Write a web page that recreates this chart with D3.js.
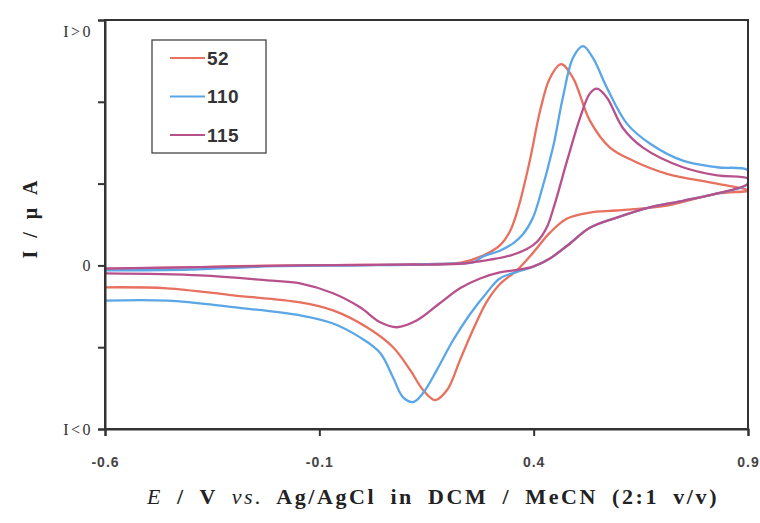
<!DOCTYPE html>
<html>
<head>
<meta charset="utf-8">
<script src="https://cdn.jsdelivr.net/npm/d3@7"></script>
<style>
  html, body { margin: 0; padding: 0; background: #fff; }
  svg { display: block; }
</style>
</head>
<body>
<svg id="chart" width="760" height="523"></svg>
<script>
// Cyclic voltammograms of compounds 52, 110 and 115: [E (V), I (relative)]
// Each trace: anodic sweep from -0.6 V to 0.9 V, then the return sweep.
const seriesNames = ["52", "110", "115"];
const seriesColors = ["#e8705e", "#5aa6e6", "#b8508c"];

const cv52 = [
  [-0.6, -0.04], [-0.45, -0.03], [-0.3, -0.01], [-0.15, 0.0], [0.0, 0.005], [0.15, 0.015],
  [0.23, 0.035], [0.282, 0.12], [0.321, 0.244], [0.345, 0.42], [0.365, 0.72], [0.391, 1.28],
  [0.415, 1.89], [0.438, 2.29], [0.464, 2.46], [0.492, 2.29], [0.531, 1.77], [0.578, 1.44],
  [0.632, 1.28], [0.711, 1.12], [0.828, 1.0], [0.9, 0.915],
  [0.828, 0.878], [0.711, 0.732], [0.594, 0.671], [0.531, 0.646], [0.478, 0.573], [0.438, 0.40],
  [0.398, 0.15], [0.361, -0.06], [0.321, -0.23], [0.291, -0.44], [0.258, -0.793],
  [0.228, -1.159], [0.198, -1.524], [0.170, -1.646], [0.142, -1.524], [0.112, -1.28],
  [0.072, -1.0], [0.011, -0.756], [-0.068, -0.549], [-0.145, -0.451], [-0.301, -0.366],
  [-0.455, -0.28], [-0.6, -0.268]
];

const cv110 = [
  [-0.6, -0.06], [-0.4, -0.05], [-0.2, -0.01], [0.0, 0.0], [0.2, 0.02], [0.26, 0.04],
  [0.282, 0.11], [0.321, 0.18], [0.352, 0.27], [0.375, 0.38], [0.398, 0.58], [0.415, 0.85],
  [0.445, 1.44], [0.468, 2.05], [0.492, 2.54], [0.515, 2.68], [0.538, 2.54], [0.571, 2.17],
  [0.618, 1.73], [0.671, 1.49], [0.748, 1.28], [0.828, 1.2], [0.9, 1.16],
  [0.9, 1.0], [0.828, 0.88], [0.748, 0.79], [0.671, 0.71], [0.594, 0.585], [0.531, 0.46],
  [0.478, 0.24], [0.438, 0.085], [0.398, -0.02], [0.361, -0.08], [0.321, -0.16],
  [0.291, -0.33], [0.251, -0.60], [0.212, -0.915], [0.174, -1.28], [0.142, -1.56],
  [0.119, -1.67], [0.095, -1.61], [0.072, -1.37], [0.042, -1.07], [-0.005, -0.88],
  [-0.068, -0.71], [-0.145, -0.61], [-0.301, -0.51], [-0.455, -0.43], [-0.6, -0.43]
];

const cv115 = [
  [-0.6, -0.04], [-0.378, -0.02], [-0.145, 0.0], [0.088, 0.01], [0.228, 0.02], [0.298, 0.07],
  [0.345, 0.12], [0.384, 0.20], [0.408, 0.29], [0.431, 0.47], [0.448, 0.73], [0.478, 1.28],
  [0.508, 1.80], [0.531, 2.10], [0.548, 2.16], [0.571, 2.05], [0.608, 1.68], [0.655, 1.44],
  [0.748, 1.20], [0.828, 1.10], [0.9, 1.06],
  [0.9, 1.0], [0.828, 0.88], [0.748, 0.79], [0.671, 0.71], [0.594, 0.585], [0.531, 0.46],
  [0.478, 0.24], [0.438, 0.085], [0.398, -0.015], [0.361, -0.055], [0.321, -0.085],
  [0.275, -0.16], [0.228, -0.28], [0.181, -0.463], [0.128, -0.671], [0.081, -0.756],
  [0.042, -0.695], [-0.005, -0.512], [-0.068, -0.341], [-0.145, -0.22], [-0.222, -0.183],
  [-0.378, -0.122], [-0.6, -0.098]
];

const seriesData = [cv52, cv110, cv115];

// Axis ticks and labels
const xTicks = [-0.6, -0.1, 0.4, 0.9];
const xTickLabels = ["-0.6", "-0.1", "0.4", "0.9"];
const yTicks = [-2, -1, 0, 1, 2, 3];
const yTickLabels = { "-2": "I<0", "0": "0", "3": "I>0" };

const svg = d3.select("#chart");
const m = { left: 105, right: 748, top: 20, bottom: 429 };

const x = d3.scaleLinear().domain([-0.6, 0.9]).range([m.left, m.right]);
const y = d3.scaleLinear().domain([-2, 3]).range([m.bottom, m.top]);

svg.append("defs").append("clipPath").attr("id", "plotClip")
  .append("rect")
  .attr("x", m.left).attr("y", m.top)
  .attr("width", m.right - m.left).attr("height", m.bottom - m.top);

// Traces
const line = d3.line()
  .x(d => x(d[0]))
  .y(d => y(d[1]))
  .curve(d3.curveCatmullRom.alpha(0.5));

const traces = svg.append("g").attr("clip-path", "url(#plotClip)");
seriesData.forEach((data, i) => {
  traces.append("path")
    .datum(data)
    .attr("fill", "none")
    .attr("stroke", seriesColors[i])
    .attr("stroke-width", 2.3)
    .attr("stroke-linejoin", "round")
    .attr("d", line);
});

// Frame
svg.append("rect")
  .attr("x", m.left).attr("y", m.top)
  .attr("width", m.right - m.left).attr("height", m.bottom - m.top)
  .attr("fill", "none").attr("stroke", "#333").attr("stroke-width", 2);

// X axis
const xAxis = svg.append("g")
  .attr("transform", `translate(0,${m.bottom})`)
  .call(d3.axisBottom(x).tickValues(xTicks).tickSize(7)
    .tickFormat((d, i) => xTickLabels[i]));
xAxis.select(".domain").attr("stroke", "#333").attr("stroke-width", 2);
xAxis.selectAll(".tick line").attr("stroke", "#333").attr("stroke-width", 2);
xAxis.selectAll(".tick text")
  .attr("y", 28)
  .attr("font-family", "Liberation Sans, Arial, sans-serif")
  .attr("font-weight", "bold")
  .attr("font-size", 14)
  .attr("letter-spacing", 1)
  .attr("fill", "#444");

// Y axis
const yAxis = svg.append("g")
  .attr("transform", `translate(${m.left},0)`)
  .call(d3.axisLeft(y).tickValues(yTicks).tickSize(7)
    .tickFormat(d => yTickLabels[String(d)] || ""));
yAxis.select(".domain").attr("stroke", "#333").attr("stroke-width", 2);
yAxis.selectAll(".tick line").attr("stroke", "#333").attr("stroke-width", 2);
yAxis.selectAll(".tick text")
  .attr("x", -12)
  .attr("font-family", "Liberation Serif, Times New Roman, serif")
  .attr("font-size", 16)
  .attr("letter-spacing", 2.5)
  .attr("fill", "#333")
  .attr("dy", d => d === 3 ? "1.05em" : "0.32em");

// Axis titles
svg.append("text")
  .attr("transform", "translate(37,218) rotate(-90)")
  .attr("text-anchor", "middle")
  .attr("font-family", "Liberation Serif, Times New Roman, serif")
  .attr("font-weight", "bold")
  .attr("font-size", 20)
  .attr("letter-spacing", 3)
  .attr("word-spacing", 2)
  .attr("fill", "#222")
  .text("I / μ A");

const xt = svg.append("text")
  .attr("x", 433).attr("y", 504)
  .attr("text-anchor", "middle")
  .attr("font-family", "Liberation Serif, Times New Roman, serif")
  .attr("font-size", 22)
  .attr("letter-spacing", 2.6)
  .attr("word-spacing", 6)
  .attr("fill", "#222");
xt.append("tspan").attr("font-style", "italic").text("E");
xt.append("tspan").attr("font-weight", "bold").text("  / V ");
xt.append("tspan").attr("font-style", "italic").text("vs.");
xt.append("tspan").attr("font-weight", "bold").text("  Ag/AgCl  in DCM / MeCN (2:1 v/v)");

// Legend
const lg = svg.append("g");
lg.append("rect")
  .attr("x", 152).attr("y", 40).attr("width", 114).attr("height", 113)
  .attr("fill", "#fff").attr("stroke", "#444").attr("stroke-width", 1.3);
seriesNames.forEach((name, i) => {
  const ly = 58 + i * 38.5;
  lg.append("line")
    .attr("x1", 170).attr("x2", 205).attr("y1", ly).attr("y2", ly)
    .attr("stroke", seriesColors[i]).attr("stroke-width", 1.8);
  lg.append("text")
    .attr("x", 207).attr("y", ly).attr("dy", "0.36em")
    .attr("font-family", "Liberation Sans, Arial, sans-serif")
    .attr("font-weight", "bold")
    .attr("font-size", 19)
    .attr("letter-spacing", 0.5)
    .attr("fill", "#333")
    .text(name);
});
</script>
</body>
</html>
